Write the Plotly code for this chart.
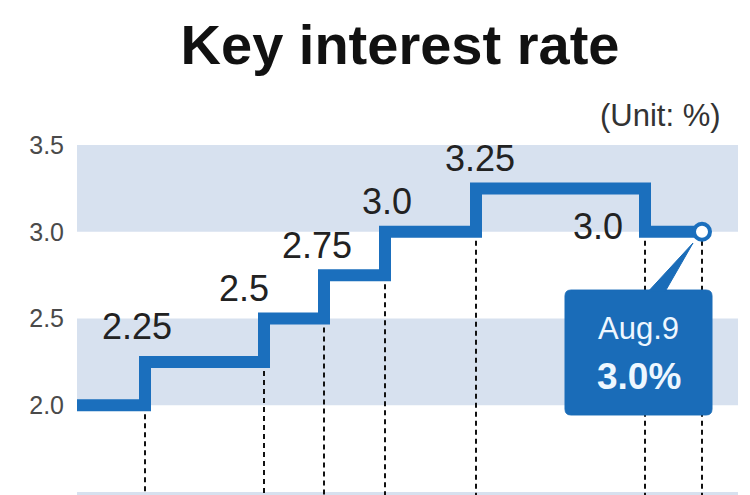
import plotly.graph_objects as go

# ---- data ----
step_pos = [0, 68, 187, 247, 308, 399, 568, 625]          # horizontal position of each rate change (chart units)
rates = [2.0, 2.25, 2.5, 2.75, 3.0, 3.25, 3.0, 3.0]       # key interest rate (%)
rate_labels = ["2.25", "2.5", "2.75", "3.0", "3.25", "3.0"]  # labels for changes 1..6
y_ticks = [1.5, 2.0, 2.5, 3.0, 3.5]
y_ticktext = ["1.5", "2.0", "2.5", "3.0", "3.5"]
shaded_bands = [(1.0, 1.5), (2.0, 2.5), (3.0, 3.5)]
callout_date = "Aug.9"
callout_value = "3.0%"

# ---- style ----
BLUE = "#1b6fbd"
BAND = "#d7e1ef"
FONT = "Liberation Sans, Arial, sans-serif"
label_shift = [(-8, 35), (-20, 30), (-7, 30), (2, 30), (4, 30), (-47, 5)]

X_RANGE = [0, 661]
Y_RANGE = [1.5 - 3 / 173.5, 3.5 + 5 / 173.5]

fig = go.Figure()

fig.add_trace(go.Scatter(
    x=step_pos, y=rates, mode="lines", line=dict(color=BLUE, width=12, shape="hv"),
    hoverinfo="skip", showlegend=False))
fig.add_trace(go.Scatter(
    x=[step_pos[-1]], y=[rates[-1]], mode="markers",
    marker=dict(size=16, color="white", line=dict(color=BLUE, width=4)),
    hoverinfo="skip", showlegend=False, cliponaxis=False))

shapes = []
for lo, hi in shaded_bands:
    shapes.append(dict(type="rect", xref="paper", yref="y", x0=0, x1=1, y0=lo, y1=hi,
                       fillcolor=BAND, line_width=0, layer="below"))
# dashed drop lines at every change
for i in range(1, len(step_pos)):
    low = min(rates[i - 1], rates[i])
    shapes.append(dict(type="line", xref="x", yref="y", x0=step_pos[i], x1=step_pos[i],
                       y0=low, y1=Y_RANGE[0], line=dict(color="#111", width=2, dash="5px,4px"),
                       layer="below"))

# callout box (data units)
ax, ay = step_pos[-1], rates[-1]
bx0, bx1 = ax - 137, ax + 10
by1, by0 = ay - 0.336, ay - 1.056
r = 6
ppy = 1 / 173.5
path = (f"M{bx0 + r},{by1} L{bx1 - r},{by1} Q{bx1},{by1} {bx1},{by1 - r * ppy} "
        f"L{bx1},{by0 + r * ppy} Q{bx1},{by0} {bx1 - r},{by0} "
        f"L{bx0 + r},{by0} Q{bx0},{by0} {bx0},{by0 + r * ppy} "
        f"L{bx0},{by1 - r * ppy} Q{bx0},{by1} {bx0 + r},{by1} Z")
shapes.append(dict(type="path", xref="x", yref="y", path=path, fillcolor="#1a6cb8",
                   line=dict(color="#1a6cb8", width=1)))
tri = f"M{ax - 54},{by1 - 0.01} L{ax - 37},{by1 - 0.01} L{ax - 9},{ay - 0.065} Z"
shapes.append(dict(type="path", xref="x", yref="y", path=tri, fillcolor="#1a6cb8",
                   line=dict(color="#1a6cb8", width=1)))

annotations = []
for i, txt in enumerate(rate_labels):
    dx, dy = label_shift[i]
    annotations.append(dict(x=step_pos[i + 1], y=rates[i + 1], xref="x", yref="y", text=txt,
                            showarrow=False, xshift=dx, yshift=dy,
                            font=dict(family=FONT, size=36, color="#222")))
cx = (bx0 + bx1) / 2
annotations.append(dict(x=cx, y=ay - 0.555, xref="x", yref="y", text=callout_date, showarrow=False,
                        font=dict(family=FONT, size=31, color="#eef7ff")))
annotations.append(dict(x=cx, y=ay - 0.837, xref="x", yref="y", text=f"<b>{callout_value}</b>",
                        showarrow=False, font=dict(family=FONT, size=37, color="#eef7ff")))
annotations.append(dict(x=(723 - 77) / 661, y=1 + (140 - 115) / 355, xref="paper", yref="paper",
                        text="(Unit: %)", showarrow=False, xanchor="right", yanchor="middle",
                        font=dict(family=FONT, size=31, color="#333")))

fig.update_layout(
    width=750, height=495,
    margin=dict(l=77, r=12, t=140, b=0),
    paper_bgcolor="white", plot_bgcolor="white",
    title=dict(text="<b>Key interest rate</b>", x=400 / 750, y=1 - 44 / 495,
               xanchor="center", yanchor="middle", xref="container", yref="container",
               font=dict(family=FONT, size=56, color="#111")),
    xaxis=dict(range=X_RANGE, visible=False, fixedrange=True),
    yaxis=dict(range=Y_RANGE, tickvals=y_ticks, ticktext=y_ticktext, showgrid=False,
               zeroline=False, showline=False, ticks="", ticklabelstandoff=12,
               tickfont=dict(family=FONT, size=25, color="#4a4a4a"), fixedrange=True),
    shapes=shapes, annotations=annotations, showlegend=False,
)
fig.write_html("out.html")
